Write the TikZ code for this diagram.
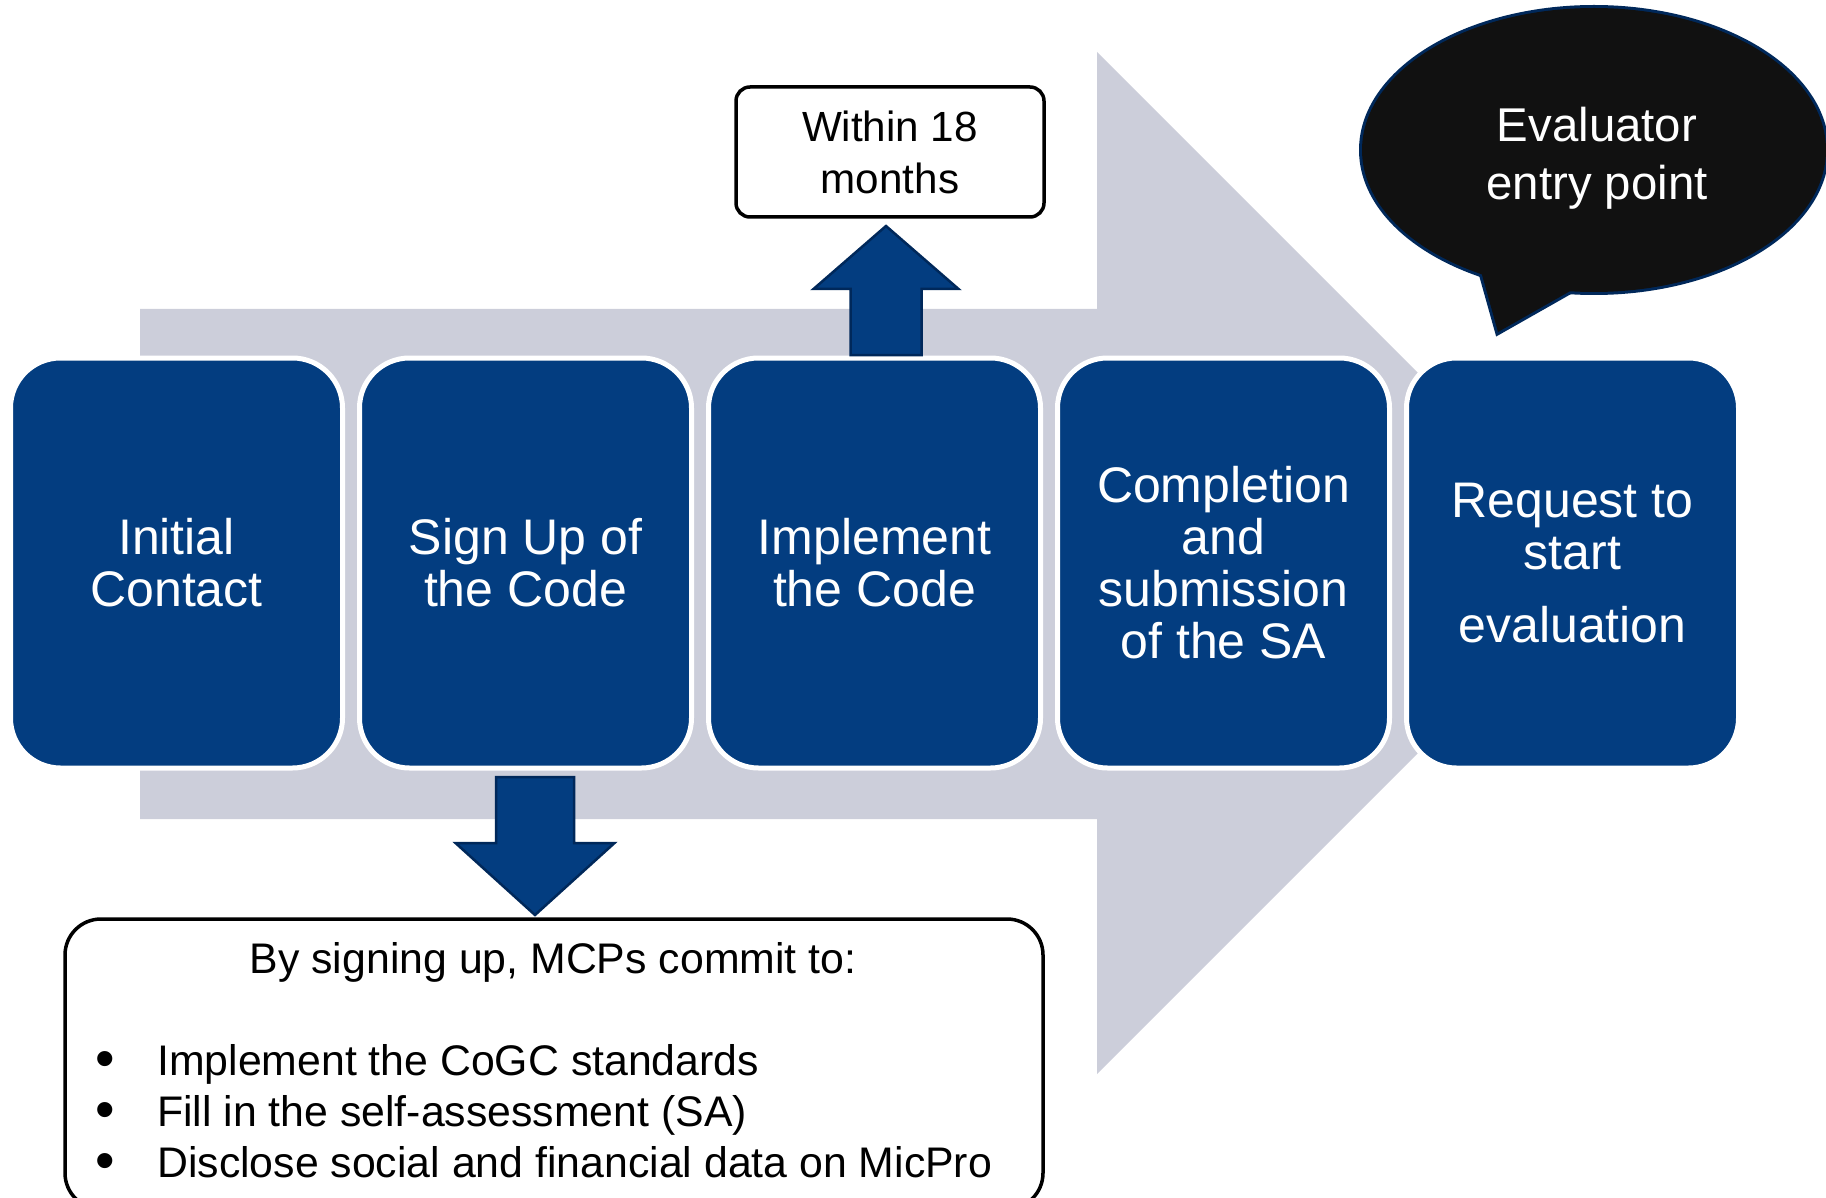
\documentclass[tikz,border=0pt]{standalone}
\usepackage{fontspec}
\setmainfont{Liberation Sans}
\usepackage{xcolor}
\usepackage{tikz}
\usetikzlibrary{shapes.geometric,positioning,calc}

\definecolor{stepblue}{RGB}{3,61,128}
\definecolor{edgenavy}{RGB}{0,40,90}
\definecolor{bandgrey}{RGB}{204,206,218}
\definecolor{bubbleblack}{RGB}{17,17,17}

\begin{document}
\begin{tikzpicture}[x=1pt,y=-1pt,
  stage/.style={draw=white, line width=5pt, fill=stepblue, rounded corners=50pt,
    minimum width=332pt, minimum height=410pt, align=center, text=white,
    font=\fontsize{50}{52}\selectfont},
  note/.style={draw=black, line width=3.5pt, fill=white, align=center},
  blockarrow/.style={fill=stepblue, draw=edgenavy, line width=2.5pt, line join=miter},
  item/.style={anchor=base west, inner sep=0pt, font=\fontsize{42.8}{50}\selectfont}
]
\useasboundingbox (0,0) rectangle (1826,1198);

% Stage positions
\def\xa{176.5} \def\xb{525.5} \def\xc{874.5} \def\xd{1223.5} \def\xe{1572.5}
\def\mid{563}

% Background arrow
\fill[bandgrey] (140,309) -- (1097,309) -- (1097,52) -- (1608,563)
  -- (1097,1074) -- (1097,819) -- (140,819) -- cycle;

% Stages
\node[stage] (contact) at (\xa,\mid) {Initial\\Contact};
\node[stage] (signup) at (\xb,\mid) {Sign Up of\\the Code};
\node[stage] (implement) at (\xc,\mid) {Implement\\the Code};
\node[stage] (complete) at (\xd,\mid) {Completion\\and\\submission\\of the SA};
\node[stage] (request) at (\xe,\mid) {Request to\\start\\[21pt]evaluation};

% Deadline note
\node[note, rounded corners=14pt, minimum width=308pt, minimum height=130pt,
  font=\fontsize{42.2}{52}\selectfont] (within) at (890,152) {Within 18\\months};
\draw[blockarrow] (850.5,355) -- (850.5,289) -- (813.5,289) -- (886,226)
  -- (958.5,289) -- (921.5,289) -- (921.5,355) -- cycle;

% Commitments
\node[note, rounded corners=36pt, minimum width=978pt, minimum height=290pt]
  (commit) at (554,1064) {};
\draw[blockarrow] (496,777) -- (574,777) -- (574,843) -- (614.5,843)
  -- (535,915) -- (455.5,843) -- (496,843) -- cycle;
\node[item, anchor=base] (pledge) at (553,973) {By signing up, MCPs commit to:};
\foreach \txt [count=\i] in {Implement the CoGC standards,
    Fill in the self-assessment (SA), Disclose social and financial data on MicPro} {
  \node[item, anchor=base, scale=1.3] (dot\i) at (105,{1026+51*\i}) {\textbullet};
  \node[item] (duty\i) at (157,{1024+51*\i}) {\txt};
}

% Evaluator bubble
\draw[edgenavy, line width=6pt] (1594,150) ellipse [x radius=232, y radius=142];
\draw[edgenavy, line width=6pt, line join=miter] (1477,257) -- (1498,332) -- (1602,273) -- cycle;
\fill[bubbleblack] (1594,150) ellipse [x radius=232, y radius=142];
\fill[bubbleblack] (1477,257) -- (1498,332) -- (1602,273) -- cycle;
\node[align=center, text=white, font=\fontsize{47.4}{58}\selectfont] (bubble)
  at (1597,158) {Evaluator\\entry point};
\end{tikzpicture}
\end{document}
